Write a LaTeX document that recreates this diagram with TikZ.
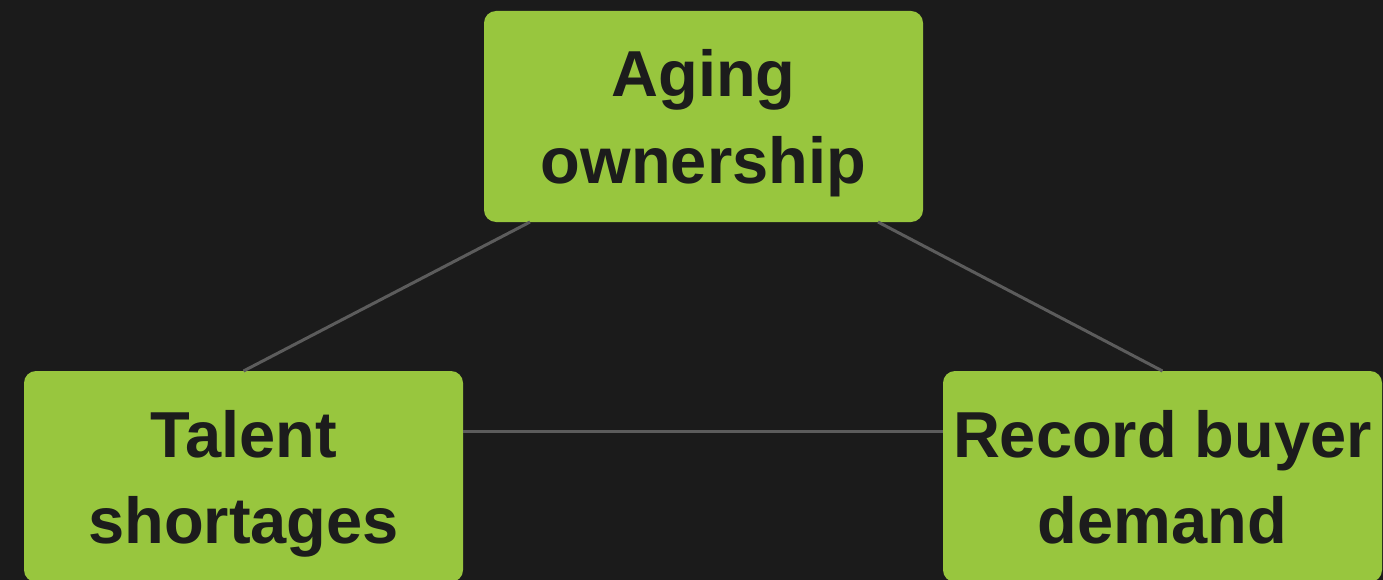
\documentclass[tikz,border=0pt]{standalone}
\usepackage{fontspec}
\setmainfont{Liberation Sans}
\definecolor{bg}{HTML}{1B1B1B}
\definecolor{boxgreen}{HTML}{98C63E}
\definecolor{txt}{HTML}{1C1C1C}
\definecolor{edge}{HTML}{5C5C5C}
\tikzset{
  box/.style={draw=none, fill=boxgreen, rounded corners=12pt, minimum width=439pt, minimum height=211pt, inner sep=0pt, outer sep=0pt},
  lbl/.style={anchor=base, inner sep=0pt, text=txt, font=\fontsize{65pt}{86pt}\selectfont\bfseries},
  link/.style={draw=edge, line width=3pt}
}
\begin{document}
\begin{tikzpicture}[x=1pt,y=1pt]
\useasboundingbox (0,0) rectangle (1383,-580);
\fill[bg] (0,0) rectangle (1383,-580);
\clip (0,0) rectangle (1383,-580);
\node[box] (top) at (703.5,-116.5) {};
\node[box] (left) at (243.5,-476.5) {};
\node[box] (right) at (1162.5,-476.5) {};
\coordinate (tl) at ([xshift=46pt]top.south west);
\coordinate (tr) at ([xshift=-45pt]top.south east);
\draw[link] (tl) -- (left.north);
\draw[link] (tr) -- (right.north);
\draw[link] ([yshift=-60pt]left.north east) -- ([yshift=-60pt]right.north west);
\node[lbl] (t1) at (703.5,-97) {Aging};
\node[lbl] (t2) at (703.5,-183) {ownership};
\node[lbl] (l1) at (243.5,-457) {Talent};
\node[lbl] (l2) at (243.5,-543) {shortages};
\node[lbl] (r1) at (1162.5,-457) {Record buyer};
\node[lbl] (r2) at (1162.5,-543) {demand};
\end{tikzpicture}
\end{document}
